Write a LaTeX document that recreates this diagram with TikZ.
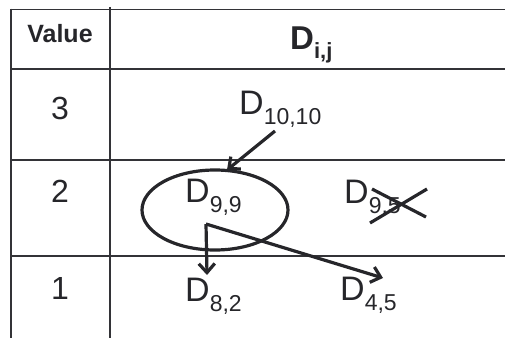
\documentclass[tikz,border=0pt]{standalone}
\usepackage{fontspec}
\setmainfont{Liberation Sans}
\usetikzlibrary{arrows.meta}
\definecolor{ink}{HTML}{26262A}
\definecolor{rule}{HTML}{333337}
\newcommand{\Dsub}[1]{{\fontsize{34}{34}\selectfont D}\raisebox{-10pt}{\fontsize{23}{23}\selectfont #1}}
\newcommand{\Dhead}[1]{{\fontsize{33}{33}\selectfont\bfseries D}\raisebox{-9pt}{\fontsize{22}{22}\selectfont\bfseries #1}}
\tikzset{
  gridline/.style={draw=rule, line width=1.8pt},
  cell/.style={inner sep=0pt, anchor=base west, text=ink},
  numtext/.style={inner sep=0pt, text=ink, font=\fontsize{32}{32}\selectfont},
  pen/.style={draw=ink, line width=3.2pt},
  arr/.style={pen, -{Straight Barb[length=9pt,width=16pt,line width=3.2pt]}},
}
\begin{document}
\begin{tikzpicture}[x=1pt,y=1pt]
\useasboundingbox (0,0) rectangle (505,338);
% table rules (y = 338 - pixel row)
\draw[gridline] (11,328.5) -- (505,328.5);
\draw[gridline] (11,269) -- (505,269);
\draw[gridline] (11,178) -- (505,178);
\draw[gridline] (11,82) -- (505,82);
\draw[gridline] (11,329.4) -- (11,0);
\draw[gridline] (110,331) -- (110,0);
% left column
\node[inner sep=0pt, anchor=base, text=ink, font=\fontsize{25}{25}\selectfont\bfseries] (value) at (60,295) {Value};
\node[numtext] (n3) at (60,230) {3};
\node[numtext] (n2) at (60,147) {2};
\node[numtext] (n1) at (60,50) {1};
% header
\node[cell] (hd) at (290,288) {\Dhead{i,j}};
% entries
\node[cell] (d1010) at (239,224) {\Dsub{10,10}};
\node[cell] (d99) at (185,136) {\Dsub{9,9}};
\node[cell] (d95) at (344,135) {\Dsub{9,5}};
\node[cell] (d82) at (185,37) {\Dsub{8,2}};
\node[cell] (d45) at (340,38) {\Dsub{4,5}};
% ellipse around D9,9
\draw[pen] (215,128) ellipse [x radius=73, y radius=40];
% arrows
\coordinate (a0) at (275,207);
\coordinate (a1) at (227,168);
\draw[arr] (a0) -- (a1);
\coordinate (src) at (206,114);
\coordinate (t82) at (207,63);
\coordinate (t45) at (383,60);
\draw[arr] (src) -- (t82);
\draw[arr] (src) -- (t45);
% cross over D9,5
\draw[pen] (370,115) -- (427,149);
\draw[pen] (372,149) -- (426,121);
\end{tikzpicture}
\end{document}
